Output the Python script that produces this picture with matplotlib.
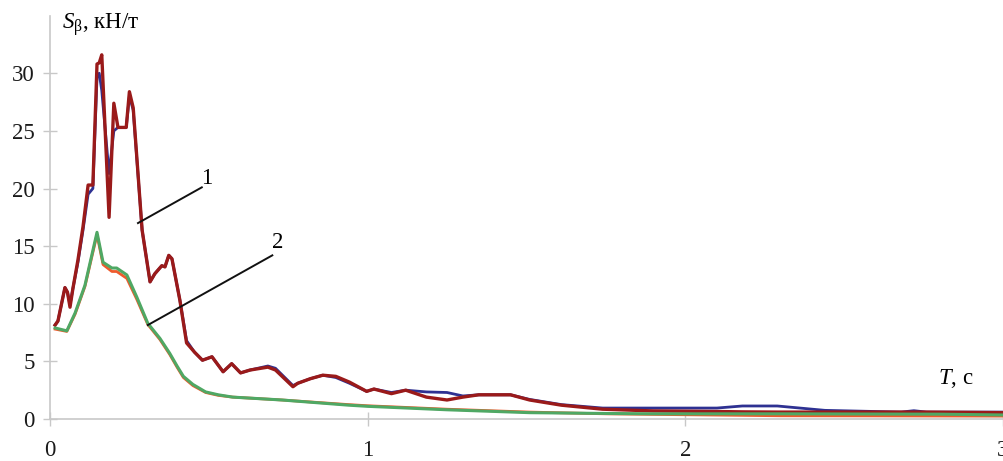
import matplotlib.pyplot as plt

plt.rcParams['font.family'] = ['Liberation Serif', 'DejaVu Serif']
plt.rcParams['mathtext.fontset'] = 'custom'
plt.rcParams['mathtext.rm'] = 'Liberation Serif'
plt.rcParams['mathtext.it'] = 'Liberation Serif:italic'

# curve 1: period grid and two nearly identical spectra
t1 = [0.016, 0.025, 0.047, 0.055, 0.063, 0.072, 0.088, 0.104, 0.12, 0.135,
      0.148, 0.155, 0.163, 0.186, 0.201, 0.214, 0.24, 0.25, 0.262, 0.29,
      0.315, 0.33, 0.352, 0.362, 0.374, 0.384, 0.409, 0.43, 0.455, 0.48,
      0.51, 0.545, 0.572, 0.60, 0.63, 0.686, 0.71, 0.765, 0.78, 0.82,
      0.859, 0.9, 0.943, 0.997, 1.02, 1.075, 1.12, 1.185, 1.25, 1.3,
      1.35, 1.45, 1.51, 1.61, 1.74, 1.9, 2.1, 2.18, 2.29, 2.44,
      2.68, 2.72, 2.76, 3.0]
s1_red = [8.15, 8.5, 11.4, 11.0, 9.7, 11.3, 13.8, 16.7, 20.3, 20.3,
          30.8, 30.9, 31.6, 17.5, 27.4, 25.3, 25.3, 28.4, 27.0, 16.4,
          11.9, 12.6, 13.3, 13.2, 14.2, 13.9, 10.3, 6.6, 5.8, 5.1,
          5.4, 4.1, 4.8, 4.0, 4.25, 4.5, 4.25, 2.8, 3.1, 3.5,
          3.8, 3.7, 3.2, 2.4, 2.6, 2.2, 2.5, 1.9, 1.65, 1.9,
          2.1, 2.1, 1.65, 1.2, 0.85, 0.7, 0.65, 0.62, 0.6, 0.6,
          0.6, 0.6, 0.6, 0.55]
s1_blue = [8.15, 8.5, 11.4, 11.0, 9.9, 11.3, 13.6, 16.4, 19.5, 20.0,
           29.6, 30.0, 28.5, 21.3, 25.0, 25.3, 25.3, 28.0, 26.8, 16.4,
           11.9, 12.6, 13.3, 13.2, 14.2, 13.9, 10.3, 6.8, 5.8, 5.1,
           5.4, 4.1, 4.8, 4.0, 4.25, 4.6, 4.4, 2.9, 3.1, 3.5,
           3.8, 3.6, 3.1, 2.4, 2.6, 2.3, 2.5, 2.35, 2.3, 2.0,
           2.1, 2.1, 1.7, 1.25, 0.95, 0.95, 0.95, 1.13, 1.13, 0.75,
           0.6, 0.72, 0.6, 0.6]

# curve 2
t2 = [0.016, 0.053, 0.079, 0.11, 0.148, 0.167, 0.195, 0.21, 0.242, 0.273,
      0.308, 0.346, 0.377, 0.40, 0.42, 0.45, 0.49, 0.53, 0.575, 0.73,
      0.94, 1.0, 1.25, 1.51, 1.75, 1.9, 2.3, 2.6, 2.8, 3.0]
s2_orange = [7.8, 7.6, 9.1, 11.5, 16.0, 13.4, 12.8, 12.8, 12.2, 10.4,
             8.2, 6.9, 5.6, 4.5, 3.6, 2.9, 2.3, 2.05, 1.9, 1.65,
             1.25, 1.15, 0.85, 0.6, 0.45, 0.4, 0.28, 0.27, 0.26, 0.25]
s2_green = [7.9, 7.65, 9.2, 11.6, 16.2, 13.6, 13.1, 13.1, 12.5, 10.6,
            8.3, 7.0, 5.7, 4.6, 3.7, 3.0, 2.35, 2.1, 1.9, 1.65,
            1.2, 1.1, 0.8, 0.55, 0.48, 0.45, 0.45, 0.43, 0.42, 0.35]

fig = plt.figure(figsize=(10.04, 4.61), dpi=100)
ax = fig.add_axes([0.0498, 0.0911, 0.949, 0.875])

ax.plot(t1, s1_blue, color='#2e3192', lw=2.0)
ax.plot(t1, s1_red, color='#9a1a1a', lw=2.4)
ax.plot(t2, s2_orange, color='#ee5a2c', lw=2.0)
ax.plot(t2, s2_green, color='#4fa864', lw=2.2)

# leader lines for the curve numbers
ax.plot([0.277, 0.478], [17.0, 20.1], color='#111111', lw=1.4)
ax.text(0.494, 20.9, '1', fontsize=16.5, ha='center', va='center')
ax.plot([0.308, 0.70], [8.15, 14.2], color='#111111', lw=1.4)
ax.text(0.717, 15.35, '2', fontsize=16.5, ha='center', va='center')

ax.set_xlim(0, 3)
ax.set_ylim(0, 35)
ax.set_xticks([0, 1, 2, 3])
ax.set_yticks([0, 5, 10, 15, 20, 25, 30])

for side in ['top', 'right']:
    ax.spines[side].set_visible(False)
for side in ['left', 'bottom']:
    ax.spines[side].set_color('#c8c8c8')
    ax.spines[side].set_linewidth(1.2)
ax.tick_params(axis='both', direction='inout', length=10, width=1.0,
               color='#c8c8c8', labelsize=16.5, labelcolor='#1a1a1a')
ax.tick_params(axis='x', pad=10)
ax.tick_params(axis='y', pad=6)

fig.text(0.062, 0.946, r'$S_{\mathrm{β}}$, кН/т', fontsize=16.5, va='center')
ax.text(0.932, 0.1016, r'$T$, с', fontsize=16.5, transform=ax.transAxes,
        va='center', ha='left')

fig.savefig('out.png', dpi=100)
